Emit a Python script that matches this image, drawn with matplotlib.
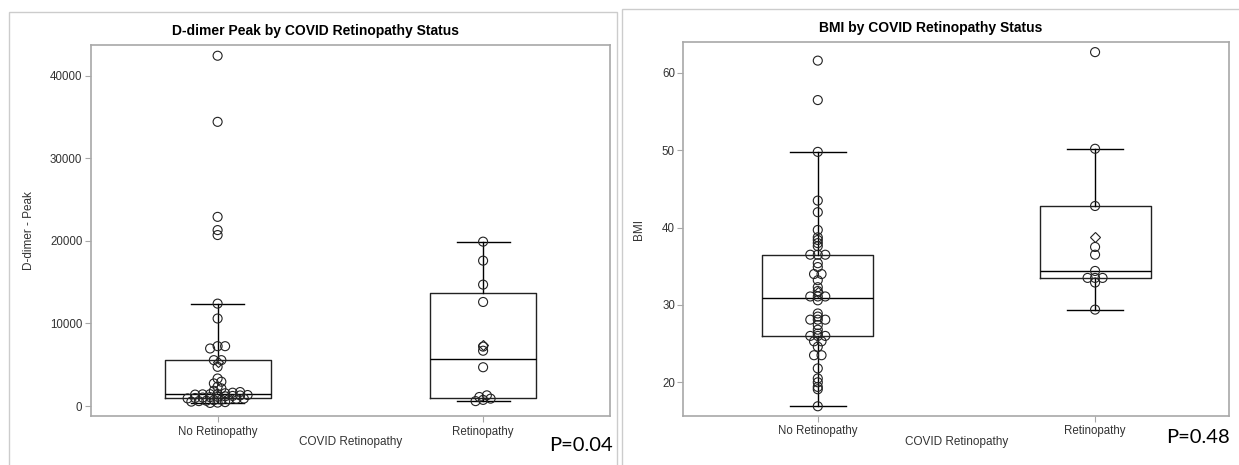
import numpy as np
import matplotlib.pyplot as plt
from matplotlib.patches import Rectangle

# values
groups = ['No Retinopathy', 'Retinopathy']

ddimer_no = [380, 420, 480, 540, 600, 650, 720, 780, 830, 880, 910, 930,
             980, 1030, 1080, 1120, 1180, 1230, 1290, 1340, 1390, 1420, 1440, 1460,
             1550, 1620, 1700, 1850, 2140, 2340, 2740, 2950, 3340, 4750,
             5560, 5560, 6970, 7250, 7250, 10600, 12400,
             20700, 21300, 22900, 34400, 42400]
ddimer_ret = [600, 750, 900, 1100, 1300, 4700, 6700, 7200, 12600, 14700, 17600, 19900]

bmi_no = [16.9, 19.1, 19.4, 20.0, 20.5, 21.8, 23.5, 23.5, 24.6, 25.3, 25.3,
          26.0, 26.0, 26.0, 26.3, 26.8, 27.4, 28.1, 28.1, 28.1, 28.5, 28.9, 30.6,
          31.1, 31.1, 31.1, 31.8, 32.3, 33.2, 34.0, 34.0, 34.9, 35.4,
          36.5, 36.5, 36.5, 37.6, 38.0, 38.4, 38.75, 39.7, 42.0, 43.5,
          49.8, 56.5, 61.6]
bmi_ret = [29.4, 32.9, 33.5, 33.5, 33.5, 34.4, 36.5, 37.5, 42.8, 50.2, 62.7]

ddimer_ticks = [0, 10000, 20000, 30000, 40000]
bmi_ticks = [20, 30, 40, 50, 60]

plt.rcParams['font.family'] = ['Liberation Sans', 'DejaVu Sans']

W, H = 1239, 465
GRAY = '#a8a8a8'
INK = '#222222'


def sas_stats(vals):
    v = np.sort(np.asarray(vals, float))
    # SAS default quantile definition (5) == averaged inverted cdf
    q1, med, q3 = np.percentile(v, [25, 50, 75], method='averaged_inverted_cdf')
    iqr = q3 - q1
    lo = v[v >= q1 - 1.5 * iqr].min()
    hi = v[v <= q3 + 1.5 * iqr].max()
    return dict(med=med, q1=q1, q3=q3, whislo=lo, whishi=hi, mean=v.mean(), fliers=[])


def jitter(ax, pos, vals, step_px=7.5, bin_px=3.5):
    vals = np.asarray(vals, float)
    pix = ax.transData.transform(np.column_stack([np.full(len(vals), pos), vals]))
    ppu = ax.transData.transform([(1, 0)])[0, 0] - ax.transData.transform([(0, 0)])[0, 0]
    bins = np.floor(pix[:, 1] / bin_px)
    xs = np.full(len(vals), float(pos))
    for b in np.unique(bins):
        idx = np.where(bins == b)[0]
        n = len(idx)
        xs[idx] = pos + (np.arange(n) - (n - 1) / 2) * step_px / ppu
    return xs


def draw_panel(ax, data, xlim, ylim, yticks, ylabel, ylab_x):
    stats = [sas_stats(v) for v in data]
    ax.bxp(stats, positions=[0, 1], widths=0.4, capwidths=0.2,
           showfliers=False, showmeans=True,
           boxprops=dict(color=INK, lw=1.0),
           whiskerprops=dict(color='black', lw=1.0),
           capprops=dict(color='black', lw=1.0),
           medianprops=dict(color='black', lw=1.0),
           meanprops=dict(marker='D', markersize=5.5, markerfacecolor='none',
                          markeredgecolor=INK, markeredgewidth=0.8))
    ax.set_xlim(xlim)
    ax.set_ylim(ylim)
    for i, v in enumerate(data):
        xs = jitter(ax, i, v)
        ax.scatter(xs, v, s=42, facecolors='none', edgecolors=INK,
                   linewidths=0.8, zorder=3)
    ax.set_xticks([0, 1])
    ax.set_xticklabels(groups)
    ax.set_yticks(yticks)
    ax.set_yticklabels([str(t) for t in yticks])
    for s in ax.spines.values():
        s.set_color(GRAY)
        s.set_linewidth(1.2)
    ax.tick_params(direction='out', length=4, width=0.8, color=GRAY,
                   labelsize=8.3, labelcolor='#333333', pad=2)
    ax.tick_params(axis='x', pad=3)
    ax.set_xlabel('COVID Retinopathy', fontsize=8.5, color='#333333')
    ax.xaxis.set_label_coords(0.5, -0.055)
    ax.set_ylabel(ylabel, fontsize=8.5, color='#333333')
    ax.yaxis.set_label_coords(ylab_x, 0.5)


fig = plt.figure(figsize=(W / 100, H / 100), dpi=100)

# panel frames
fig.patches.append(Rectangle((9 / W, -0.1), (616.5 - 9) / W, 1.1 - 12 / H,
                             transform=fig.transFigure, fill=False,
                             edgecolor='#cccccc', lw=1.0))
fig.patches.append(Rectangle((622 / W, -0.1), 0.5, 1.1 - 9.3 / H,
                             transform=fig.transFigure, fill=False,
                             edgecolor='#cccccc', lw=1.0))

axL = fig.add_axes([90.7 / W, 1 - 416 / H, 519.3 / W, 371 / H])
axR = fig.add_axes([683.3 / W, 1 - 415.7 / H, 545.7 / W, 373.4 / H])

draw_panel(axL, [ddimer_no, ddimer_ret], (-0.478, 1.478), (-1200, 43700),
           ddimer_ticks, 'D-dimer - Peak', -0.108)
draw_panel(axR, [bmi_no, bmi_ret], (-0.485, 1.483), (15.68, 63.97),
           bmi_ticks, 'BMI', -0.070)

fig.text(315 / W, 1 - 31 / H, 'D-dimer Peak by COVID Retinopathy Status',
         ha='center', va='center', fontsize=10, weight='bold')
fig.text(931 / W, 1 - 28 / H, 'BMI by COVID Retinopathy Status',
         ha='center', va='center', fontsize=10, weight='bold')

fig.text(613 / W, 1 - 445 / H, 'P=0.04', ha='right', va='center',
         fontsize=14.5, family=['Lato', 'DejaVu Sans'])
fig.text(1230 / W, 1 - 437 / H, 'P=0.48', ha='right', va='center',
         fontsize=14.5, family=['Lato', 'DejaVu Sans'])

fig.savefig('out.png', dpi=100)
